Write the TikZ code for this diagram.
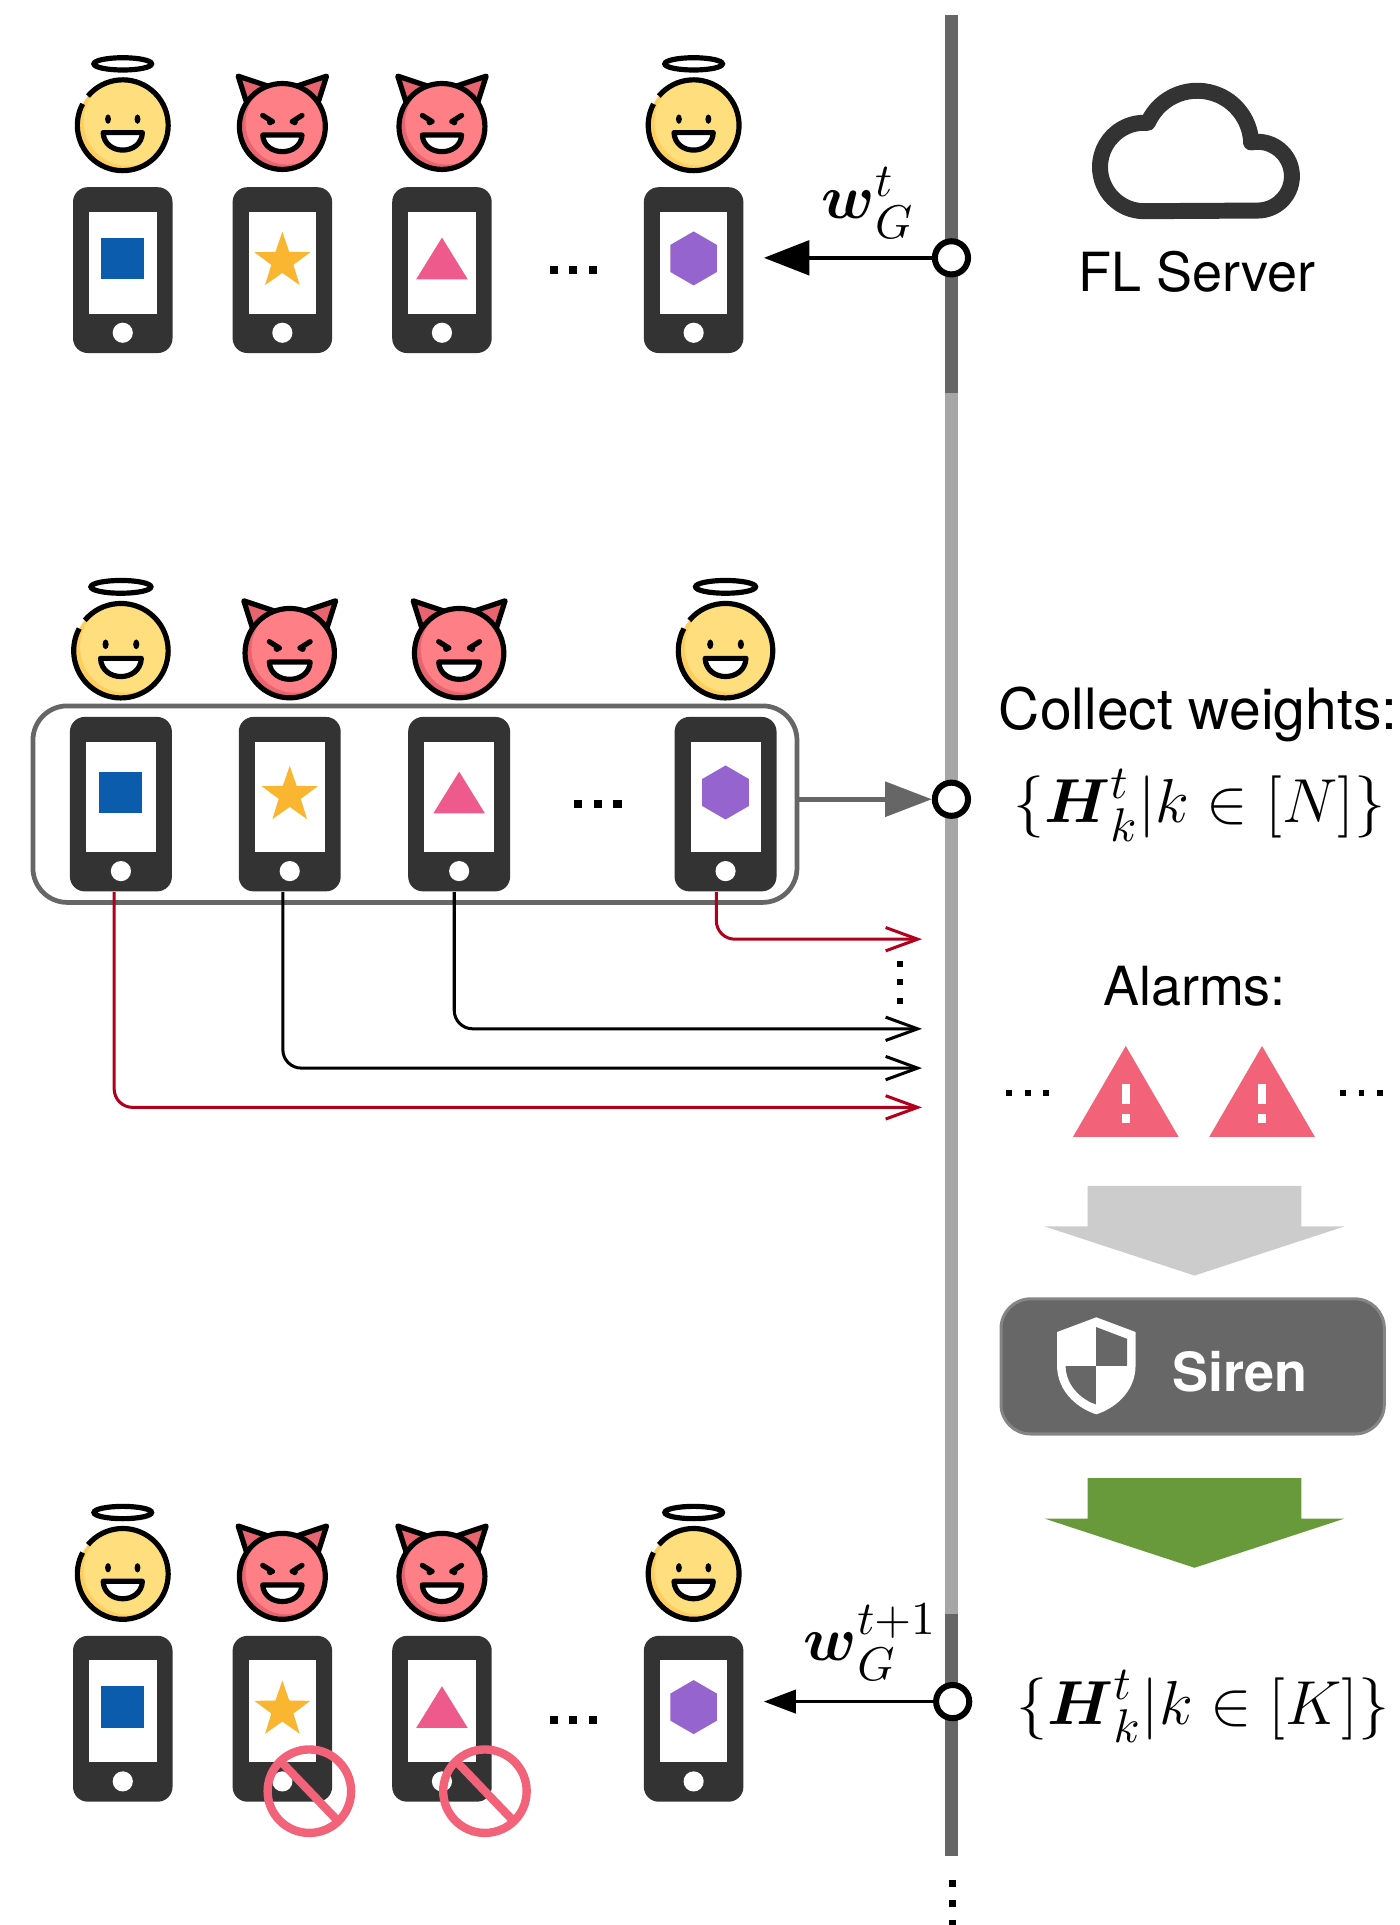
\documentclass[tikz,border=0pt]{standalone}
\usepackage{amsmath}
\usepackage{fontspec}
\newfontfamily\heros{TeX Gyre Heros}
\usetikzlibrary{arrows.meta}

\definecolor{timedark}{HTML}{666666}
\definecolor{timelight}{HTML}{A6A6A6}
\definecolor{phonegray}{HTML}{333333}
\definecolor{angelyellow}{HTML}{FFDE7D}
\definecolor{angelshade}{HTML}{FFCE5E}
\definecolor{devilred}{HTML}{FF7F87}
\definecolor{devilshade}{HTML}{E8646F}
\definecolor{glyphblue}{HTML}{0B5CAD}
\definecolor{glyphyellow}{HTML}{FBB631}
\definecolor{glyphpink}{HTML}{EF5A8C}
\definecolor{glyphpurple}{HTML}{9564CE}
\definecolor{alarmred}{HTML}{B1001C}
\definecolor{warnpink}{HTML}{F26279}
\definecolor{blockgray}{HTML}{CCCCCC}
\definecolor{blockgreen}{HTML}{689A3C}
\definecolor{sirengray}{HTML}{676767}
\definecolor{sirenedge}{HTML}{858585}

\tikzset{
  faceline/.style={black, line width=1.2pt},
  phone/.style={rectangle, rounded corners=1.2mm, fill=phonegray, inner sep=0pt,
    minimum width=8.1mm, minimum height=13.5mm,
    path picture={
      \fill[white, sharp corners] ([shift={(1.3mm,-2mm)}]path picture bounding box.north west)
        rectangle ([shift={(-1.3mm,3.2mm)}]path picture bounding box.south east);
      \fill[white] ([yshift=1.65mm]path picture bounding box.south) circle (0.82mm);
    }},
  bigphone/.style={phone, minimum width=8.3mm, minimum height=14.2mm},
  tick/.style={circle, draw=black, fill=white, line width=1.4pt, minimum size=2.7mm, inner sep=0pt},
  groupbox/.style={draw=timedark, line width=1.1pt, rounded corners=2.8mm,
    minimum width=6.22cm, minimum height=1.6cm, inner sep=0pt},
  sirenbox/.style={fill=sirengray, draw=sirenedge, line width=0.7pt, rounded corners=2.4mm,
    minimum width=3.12cm, minimum height=1.1cm, inner sep=0pt},
  push/.style={line width=0.95pt, -{Triangle[length=3.7mm, width=2.8mm]}, shorten >=1.6mm},
  collect/.style={timedark, line width=1.1pt, -{Triangle[length=3.8mm, width=2.8mm]}},
  alarm/.style={line width=0.7pt, rounded corners=1.5mm, -{Straight Barb[length=2.6mm, width=1.9mm]}},
  noentry/.style={warnpink, line width=0.68mm},
  sans/.style={font=\heros\fontsize{12.5}{15}\selectfont, inner sep=0pt},
  formula/.style={font=\fontsize{15}{18}\selectfont, inner sep=0pt},
  % good client
  angel/.pic={
    \begin{scope}
      \clip (0,0) circle (37);
      \fill[angelshade] (0,0) circle (37);
      \fill[angelyellow] (4,-3) circle (36);
    \end{scope}
    \draw[faceline] (220:37) arc (220:568:37);
    \fill (-12,-5) ellipse (2.4 and 3.8);
    \fill (12,-5) ellipse (2.4 and 3.8);
    \filldraw[faceline, fill=white, line join=round] (-16,6) .. controls (-15,25) and (15,25) .. (16,6) -- cycle;
    \draw[faceline] (0,-50) ellipse (23.5 and 5);
  },
  % malicious client
  devil/.pic={
    \filldraw[faceline, fill=devilshade, line join=round] (-29,-19) -- (-36,-41) -- (-12,-33) -- cycle;
    \filldraw[faceline, fill=devilshade, line join=round] (29,-19) -- (36,-41) -- (12,-33) -- cycle;
    \begin{scope}
      \clip (0,0) circle (35);
      \fill[devilshade] (0,0) circle (35);
      \fill[devilred] (4,-3) circle (34);
    \end{scope}
    \draw[faceline] (0,0) circle (35);
    \draw[faceline, line cap=round] (-16,-9) -- (-8,-4);
    \draw[faceline, line cap=round] (16,-9) -- (8,-4);
    \fill (-10,-3.5) circle (2.6);
    \fill (10,-3.5) circle (2.6);
    \filldraw[faceline, fill=white, line join=round] (-16,7) .. controls (-15,25) and (15,25) .. (16,7) -- cycle;
  },
  glyphsq/.pic={\fill[glyphblue] (-17.5,-17) rectangle (17.5,17);},
  glyphstar/.pic={\fill[glyphyellow] (0,-21.7) -- (5.6,-5.4) -- (22.8,-5.1) -- (9,5.2) -- (14.1,21.7)
    -- (0,11.8) -- (-14.1,21.7) -- (-9,5.2) -- (-22.8,-5.1) -- (-5.6,-5.4) -- cycle;},
  glyphtri/.pic={\fill[glyphpink] (0,-17) -- (21,17) -- (-21,17) -- cycle;},
  glyphhex/.pic={\fill[glyphpurple] (0,-22) -- (19,-11) -- (19,11) -- (0,22) -- (-19,11) -- (-19,-11) -- cycle;},
}

\begin{document}
\begin{tikzpicture}[x=0.01cm, y=-0.01cm]
\useasboundingbox (0,0) rectangle (1140,1568);

% server time line
\draw[timedark, line width=1mm] (775,12) -- (775,320);
\draw[timelight, line width=1mm] (775,320) -- (775,1315);
\draw[timedark, line width=1mm] (775,1315) -- (775,1512);
\draw[line width=0.55mm, dash pattern=on 0.55mm off 1.05mm] (776,1531.5) -- (776,1600);
\node[tick] (s1) at (775,210) {};
\node[tick] (s2) at (775,651) {};
\node[tick] (s3) at (776,1386) {};

% server
\draw[phonegray, line width=1.3mm, line join=round]
  (932,172) arc (90:274.5:36) -- (935,100) arc (204:357:44) -- (1019,116) arc (259:450:28) -- cycle;
\node[sans] (server) at (975,221) {FL Server};

% round t: broadcast
\foreach \x [count=\i] in {100,230,360,565}
  \node[phone] (t\i) at (\x,220) {};
\foreach \x/\g in {100/glyphsq,230/glyphstar,360/glyphtri,565/glyphhex}
  \pic at (\x,210.5) {\g};
\foreach \x in {100,565} \pic at (\x,102) {angel};
\foreach \x in {230,360} \pic at (\x,103) {devil};
\foreach \x in {451,467,483} \fill (\x-3.3,216.5) rectangle (\x+3.3,223.5);
\draw[push] (s1) -- (s1 -| t4.east);
\node[formula] (wt) at (707,165) {$\boldsymbol{w}_G^t$};

% round t: upload
\node[groupbox] (grp) at (338,655) {};
\foreach \x [count=\i] in {98.5,236,374,591}
  \node[bigphone] (m\i) at (\x,655) {};
\foreach \x/\g in {98.5/glyphsq,236/glyphstar,374/glyphtri,591/glyphhex}
  \pic at (\x,645.5) {\g};
\foreach \x in {98.5,591} \pic[scale=1.04] at (\x,530) {angel};
\foreach \x in {236,374} \pic[scale=1.04] at (\x,532) {devil};
\foreach \x in {471,487,503} \fill (\x-3.3,651.5) rectangle (\x+3.3,658.5);
\draw[collect] (grp.east |- s2) -- (s2);
\node[sans, font=\heros\fontsize{13.2}{16}\selectfont] (collect) at (976,582) {Collect weights:};
\node[formula] (hn) at (977,656) {$\{\boldsymbol{H}_k^t|k\in[N]\}$};

% alarms
\coordinate (a1) at (751,765);
\coordinate (a2) at (751,838);
\coordinate (a3) at (751,870);
\coordinate (a4) at (751,902);
\draw[alarm, alarmred] ([xshift=-0.75mm]m4.south) |- (a1);
\draw[alarm] ([xshift=-0.4mm]m3.south) |- (a2);
\draw[alarm] ([xshift=-0.56mm]m2.south) |- (a3);
\draw[alarm, alarmred] ([xshift=-0.55mm]m1.south) |- (a4);
\foreach \y in {785,800,815} \fill (730.5,\y-2.5) rectangle (735.5,\y+2.5);
\node[sans] (alarms) at (973,803) {Alarms:};
\foreach \x in {917,1028} {
  \fill[warnpink] (\x,852) -- (\x+43,926) -- (\x-43,926) -- cycle;
  \fill[white] (\x-3.2,883) rectangle (\x+3.2,899);
  \fill[white] (\x-3.2,907) rectangle (\x+3.2,914.5);
}
\foreach \x in {822,837,852,1094,1109,1124} \fill (\x-2.4,887.6) rectangle (\x+2.4,892.4);

% Siren
\fill[blockgray] (886,966) -- (1060,966) -- (1060,999) -- (1095,999) -- (973,1039) -- (851,999) -- (886,999) -- cycle;
\node[sirenbox] (siren) at (971.5,1113) {};
\fill[white] (893,1073) -- (925,1085) -- (925,1112) .. controls (925,1135) and (906,1148) .. (893,1152)
  .. controls (880,1148) and (861,1135) .. (861,1112) -- (861,1085) -- cycle;
\begin{scope}
  \clip (893,1081) -- (918,1090.5) -- (918,1112) .. controls (918,1130) and (903,1141) .. (893,1144)
    .. controls (883,1141) and (868,1130) .. (868,1112) -- (868,1090.5) -- cycle;
  \fill[sirengray] (893,1060) rectangle (930,1112.5);
  \fill[sirengray] (850,1112.5) rectangle (893,1160);
\end{scope}
\node[sans, font=\heros\bfseries\fontsize{12.5}{15}\selectfont, white] (sirenlbl) at (1010,1117) {Siren};
\fill[blockgreen] (886,1204) -- (1060,1204) -- (1060,1237) -- (1095,1237) -- (973,1277) -- (851,1237) -- (886,1237) -- cycle;

% round t+1
\foreach \x [count=\i] in {100,230,360,565}
  \node[phone] (b\i) at (\x,1400) {};
\foreach \x/\g in {100/glyphsq,230/glyphstar,360/glyphtri,565/glyphhex}
  \pic at (\x,1390.5) {\g};
\foreach \x in {100,565} \pic at (\x,1282) {angel};
\foreach \x in {230,360} \pic at (\x,1284) {devil};
\foreach \x in {451,467,483} \fill (\x-3.3,1397.5) rectangle (\x+3.3,1404.5);
\foreach \x in {252,395} {
  \draw[noentry] (\x,1459) circle (34);
  \draw[noentry] (\x-23,1435) -- (\x+23,1483);
}
\draw[push, line width=0.7pt, -{Triangle[length=2.6mm, width=1.9mm]}] (s3) -- (s3 -| b4.east);
\node[formula] (wtt) at (709,1338) {$\boldsymbol{w}_G^{t+1}$};
\node[formula] (hk) at (980,1390) {$\{\boldsymbol{H}_k^t|k\in[K]\}$};
\end{tikzpicture}
\end{document}
